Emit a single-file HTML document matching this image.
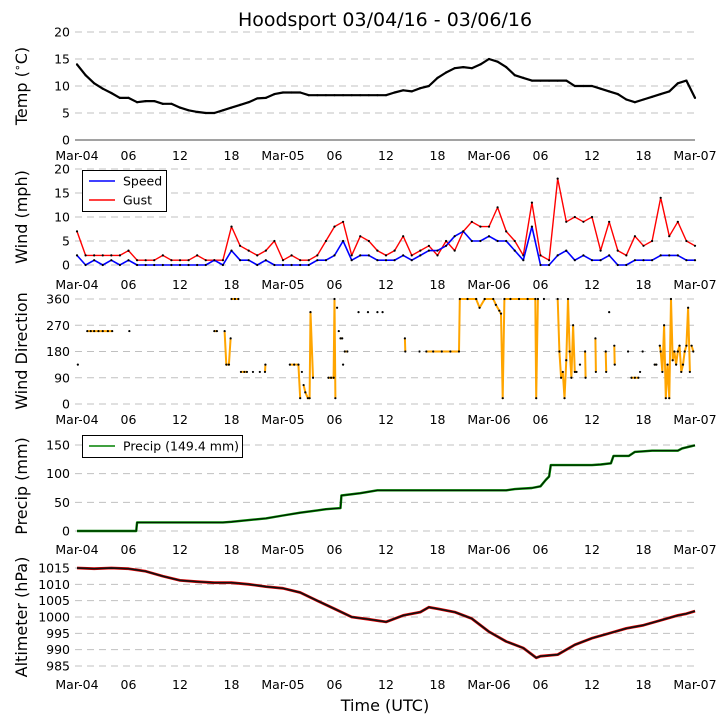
<!DOCTYPE html>
<html><head><meta charset="utf-8"><style>
body{margin:0;background:#fff}
svg{display:block;font-family:"DejaVu Sans","Liberation Sans",sans-serif}
</style></head><body>
<svg id="chart" width="726" height="725" viewBox="0 0 726 725" xmlns="http://www.w3.org/2000/svg">
<rect width="726" height="725" fill="#fff"/>
<text x="385" y="26" font-size="19" text-anchor="middle">Hoodsport 03/04/16 - 03/06/16</text>
<text x="385" y="711" font-size="16" text-anchor="middle">Time (UTC)</text>
<g id="layer"></g>
</svg>
<script>
// ---- data ----
const timeTickLabels = ["Mar-04","06","12","18","Mar-05","06","12","18","Mar-06","06","12","18","Mar-07"];
const tempValues = [14,12,10.5,9.5,8.7,7.8,7.8,7,7.2,7.2,6.7,6.7,6,5.5,5.2,5,5,5.5,6,6.5,7,7.7,7.8,8.5,8.8,8.8,8.8,8.3,8.3,8.3,8.3,8.3,8.3,8.3,8.3,8.3,8.3,8.8,9.2,9,9.6,10,11.5,12.5,13.3,13.5,13.3,14,15,14.5,13.5,12,11.5,11,11,11,11,11,10,10,10,9.5,9,8.5,7.5,7,7.5,8,8.5,9,10.5,11,7.8];
const gustValues = [7,2,2,2,2,2,3,1,1,1,2,1,1,1,2,1,1,1,8,4,3,2,3,5,1,2,1,1,2,5,8,9,2,6,5,3,2,3,6,2,3,4,2,5,3,7,9,8,8,12,7,5,2,13,2,1,18,9,10,9,10,3,9,3,2,6,4,5,14,6,9,5,4];
const speedValues = [2,0,1,0,1,0,1,0,0,0,0,0,0,0,0,0,1,0,3,1,1,0,1,0,0,0,0,0,1,1,2,5,1,2,2,1,1,1,2,1,2,3,3,4,6,7,5,5,6,5,5,3,1,8,0,0,2,3,1,2,1,1,2,0,0,1,1,1,2,2,2,1,1];
const dirHours = [0.1,null,1.2,1.6,2.0,2.5,3.0,3.6,4.1,null,6.1,null,16,16.3,null,17.2,17.4,17.7,17.9,null,18.0,18.4,18.8,null,19.1,19.5,19.8,null,20.5,null,21.3,null,21.9,21.95,null,24.8,25.3,25.8,26.0,null,26.2,null,26.4,26.6,26.9,27.1,27.2,27.5,null,29.3,29.6,29.9,30.0,30.1,null,30.3,null,30.5,null,30.7,30.9,null,31.2,31.5,null,31.0,null,32.8,null,33.9,null,35,null,35.6,null,38.2,38.25,null,39.9,null,40.7,41.5,42.5,43.5,44.5,44.6,45.5,46.5,46.9,47.5,48.5,48.8,49.2,49.4,49.6,49.8,50.5,51.5,52.5,53.4,53.5,53.7,null,54.4,null,56.0,56.2,56.4,56.6,56.8,57.0,57.2,57.4,57.6,57.8,58.0,58.2,null,58.6,null,59.2,59.25,null,60.4,60.45,null,61.6,61.65,null,62.0,null,62.6,62.65,null,64.2,null,64.6,65.0,65.4,null,65.6,null,65.9,null,67.3,67.5,null,67.9,68.0,68.2,68.4,68.6,68.8,69.0,69.2,69.4,69.6,69.8,70.0,70.2,70.4,70.6,70.8,71.0,71.2,71.4,null,71.6,71.8];
const dirValues = [135,null,250,250,250,250,250,250,250,null,250,null,250,250,null,250,135,135,225,null,360,360,360,null,110,110,110,null,110,null,110,null,110,135,null,135,135,135,20,null,110,null,65,40,20,20,315,90,null,90,90,90,360,20,null,330,null,250,null,225,225,null,180,180,null,135,null,315,null,315,null,315,null,315,null,225,180,null,180,null,180,180,180,180,180,360,360,360,330,360,360,340,320,310,20,360,360,360,360,360,20,360,null,360,null,360,180,90,110,20,150,360,180,90,270,110,110,null,135,null,180,90,null,225,110,null,180,110,null,315,null,200,135,null,180,null,90,90,90,null,110,null,180,null,135,135,null,200,180,110,270,20,135,20,360,150,180,135,180,200,110,135,180,200,330,110,null,200,180];
const precipHours = [0,6.9,7.0,17,18,20,22,24,26,28,29,30.7,30.8,33,35,36,50,51,53,54,54.6,55.0,55.2,60,61,62.2,62.5,64.3,65,67,70,70.5,72];
const precipValues = [0,0,15,15,16,19,22,27,32,36,38,40,62,66,71,71,71,73,75,78,89,95,115,115,116,118,131,131,138,140,140,144,149.4];
const altHours = [0,2,4,6,8,10,12,14,16,18,20,22,24,26,28,30,32,34,36,38,40,41,42,44,46,48,50,52,53.5,54,56,58,60,62,64,66,68,70,71,72];
const altValues = [1015,1014.8,1015,1014.8,1014,1012.5,1011.2,1010.8,1010.5,1010.5,1010,1009.3,1008.8,1007.5,1005,1002.5,1000,999.3,998.5,1000.5,1001.5,1003,1002.5,1001.5,999.5,995.5,992.5,990.5,987.5,988,988.5,991.5,993.5,995,996.5,997.5,999,1000.5,1001,1001.8];
const tempTicks = [0,5,10,15,20];
const windTicks = [0,5,10,15,20];
const dirTicks = [0,90,180,270,360];
const precipTicks = [0,50,100,150];
const altTicks = [985,990,995,1000,1005,1010,1015];

// ---- drawing ----
const NS = "http://www.w3.org/2000/svg";
const layer = document.getElementById('layer');
const X0 = 77, X1 = 695;
function xs(h){ return X0 + h*(X1-X0)/72; }
function mk(tag, attrs){ const e = document.createElementNS(NS, tag); for (const k in attrs) e.setAttribute(k, attrs[k]); layer.appendChild(e); return e; }
function scaleY(vmin, vmax, ypMin, ypMax){ return v => ypMin + (v - vmin)*(ypMax - ypMin)/(vmax - vmin); }

function axes(name, ticks, ys, labelY, title, titleCy, solidZero){
  ticks.forEach((t,i)=>{
    const y = ys(t);
    const g = mk('line',{x1:X0-2,x2:X1,y1:y,y2:y,stroke:(solidZero&&i===0)?'#444':'#c0c0c0','stroke-width':1,'stroke-dasharray':(solidZero&&i===0)?'none':'7,5'});
    
    
    const tl = mk('text',{x:70,y:y+4.5,'font-size':12.5,'text-anchor':'end'});
    tl.textContent = t;
    
    
  });
  timeTickLabels.forEach((lab,i)=>{
    const tx = mk('text',{x:xs(i*6),y:labelY,'font-size':12.5,'text-anchor':'middle'});
    tx.textContent = lab;
    
    
  });
  const at = mk('text',{x:0,y:0,'font-size':16,'text-anchor':'middle',transform:`translate(27,${titleCy}) rotate(-90)`});
  at.innerHTML = title;
  
  
}
function line(name, hours, vals, ys, color, w, dots){
  let d = ''; let pen = false;
  const pts = [];
  for (let i=0;i<hours.length;i++){
    if (hours[i]===null || vals[i]===null){ pen=false; continue; }
    const px = xs(hours[i]), py = ys(vals[i]);
    d += (pen?'L':'M') + px.toFixed(1) + ' ' + py.toFixed(1) + ' ';
    pen = true; pts.push([px,py]);
  }
  const p = mk('path',{d:d,fill:'none',stroke:color,'stroke-width':w,'stroke-linejoin':'round'});
  
  
  if (dots){
    pts.forEach(([px,py])=>{
      const c = mk('circle',{cx:px,cy:py,r:1.1,fill:'#000'});
      
      
    });
  }
}
const hourly = tempValues.map((_,i)=>i);

// Temp
const yT = scaleY(0,20,140,32);
axes('temp', tempTicks, yT, 160, 'Temp (<tspan font-size="11" dy="-6">∘</tspan><tspan dy="6">C)</tspan>', 86, true);
line('temp', hourly, tempValues, yT, '#000', 2.2, true);

// Wind
const yW = scaleY(0,20,265,169);
axes('wind', windTicks, yW, 289, 'Wind (mph)', 217, false);
line('gust', hourly, gustValues, yW, '#f00', 1.4, true);
line('speed', hourly, speedValues, yW, '#00f', 1.6, true);

// Direction
const yD = scaleY(0,360,404,299);
axes('direction', dirTicks, yD, 424, 'Wind Direction', 351, false);
line('direction', dirHours, dirValues, yD, '#ffa500', 2, true);

// Precip
const yP = scaleY(0,150,531,445);
axes('precip', precipTicks, yP, 554, 'Precip (mm)', 486, false);
line('precip', precipHours, precipValues, yP, '#008000', 2.4, false);
line('precip-dots', precipHours, precipValues, yP, '#000', 0.8, false);

// Altimeter
const yA = scaleY(985,1015,666,568);
axes('altimeter', altTicks, yA, 689, 'Altimeter (hPa)', 617, false);
line('altimeter', altHours, altValues, yA, '#e00', 2.8, false);
line('altimeter-dots', altHours, altValues, yA, '#111', 1.7, false);

// Legends
function legendBox(name,x,y,w,h){ const r = mk('rect',{x:x,y:y,width:w,height:h,fill:'#fff',stroke:'#000','stroke-width':1});   }
function legendEntry(name,x,y,color,label){
  const l = mk('line',{x1:x,x2:x+26,y1:y,y2:y,stroke:color,'stroke-width':1.6});
  
  
  const t = mk('text',{x:x+34,y:y+4.5,'font-size':12.5});
  t.textContent = label;
  
  
}
legendBox('wind-legend',82.5,170.5,84,41);
legendEntry('legend-speed',89,181,'#00f','Speed');
legendEntry('legend-gust',89,200,'#f00','Gust');
legendBox('precip-legend',82.5,435.5,160,22);
legendEntry('legend-precip',89,446,'#008000','Precip (149.4 mm)');
</script>
</body></html>
